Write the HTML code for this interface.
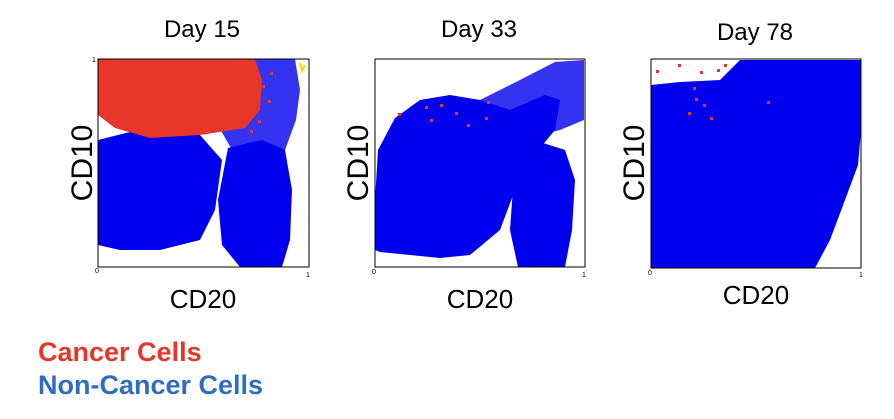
<!DOCTYPE html>
<html><head><style>
body{margin:0;background:#fff;width:894px;height:414px;overflow:hidden;font-family:"Liberation Sans",sans-serif}
</style></head><body>
<svg width="894" height="414" viewBox="0 0 894 414" xmlns="http://www.w3.org/2000/svg" font-family="Liberation Sans, sans-serif">
<text x="202" y="37" font-size="24" text-anchor="middle">Day 15</text>
<text x="479" y="37" font-size="24" text-anchor="middle">Day 33</text>
<text x="755" y="40" font-size="24" text-anchor="middle">Day 78</text>
<text transform="translate(92,163) rotate(-90)" font-size="30" text-anchor="middle">CD10</text>
<text transform="translate(368,163) rotate(-90)" font-size="30" text-anchor="middle">CD10</text>
<text transform="translate(644,163) rotate(-90)" font-size="30" text-anchor="middle">CD10</text>
<text x="203" y="308" font-size="26" text-anchor="middle">CD20</text>
<text x="480" y="308" font-size="26" text-anchor="middle">CD20</text>
<text x="756" y="304" font-size="26" text-anchor="middle">CD20</text>

<!-- Plot 1 -->
<g>
<path d="M220,59 L295,59 L300,90 L296,120 L285,150 L262,160 L232,150 L215,120 Z" fill="#0000ee" opacity="0.8"/>
<path d="M98,140 L130,132 L200,135 L222,160 L215,210 L200,240 L160,250 L120,250 L98,245 Z" fill="#0000ee"/>
<path d="M228,148 L262,140 L285,150 L292,190 L290,240 L282,267 L240,267 L222,245 L218,200 Z" fill="#0000ee"/>
<path d="M98,59 L255,59 L262,80 L260,110 L245,128 L200,135 L150,138 L115,128 L98,115 Z" fill="#e8352a"/>
<g fill="#e8352a"><rect x="262" y="85" width="3" height="3"/><rect x="268" y="100" width="3" height="3"/><rect x="258" y="120" width="3" height="3"/><rect x="250" y="130" width="3" height="3"/><rect x="270" y="72" width="3" height="3"/></g>
<path d="M300,63 l2,8 l3,-6" stroke="#f0e000" stroke-width="2" fill="none"/>
<rect x="98" y="59" width="211" height="208" fill="none" stroke="#000" stroke-width="1"/>
<text x="95" y="273" font-size="7">0</text><text x="306" y="277" font-size="7">1</text><text x="92" y="62" font-size="7">1</text>
</g>

<!-- Plot 2 -->
<g>
<path d="M480,100 L520,80 L555,62 L584,60 L584,120 L560,130 L520,140 Z" fill="#0000ee" opacity="0.8"/>
<path d="M375,200 L378,150 L395,118 L420,100 L450,95 L480,100 L510,110 L545,95 L560,100 L555,130 L530,160 L515,190 L500,230 L470,255 L440,258 L410,255 L380,252 L375,250 Z" fill="#0000ee"/>
<path d="M515,160 L540,142 L565,150 L575,180 L572,230 L565,267 L518,267 L510,230 Z" fill="#0000ee"/>
<g fill="#e8352a"><rect x="398" y="113" width="3" height="3"/><rect x="425" y="106" width="3" height="3"/><rect x="440" y="104" width="3" height="3"/><rect x="455" y="112" width="3" height="3"/><rect x="485" y="117" width="3" height="3"/><rect x="487" y="101" width="3" height="3"/><rect x="430" y="119" width="3" height="3"/><rect x="467" y="124" width="3" height="3"/></g>
<rect x="375" y="59" width="210" height="208" fill="none" stroke="#000" stroke-width="1"/>
<text x="372" y="274" font-size="7">0</text><text x="582" y="277" font-size="7">1</text>
</g>

<!-- Plot 3 -->
<g>
<path d="M651,85 L680,82 L720,80 L740,60 L861,60 L861,130 L858,165 L845,200 L830,240 L815,268 L651,268 Z" fill="#0000ee"/>
<g fill="#e8352a"><rect x="656" y="70" width="3" height="3"/><rect x="678" y="64" width="3" height="3"/><rect x="700" y="71" width="3" height="3"/><rect x="693" y="87" width="3" height="3"/><rect x="695" y="98" width="3" height="3"/><rect x="703" y="104" width="3" height="3"/><rect x="688" y="112" width="3" height="3"/><rect x="710" y="117" width="3" height="3"/><rect x="717" y="69" width="3" height="3"/><rect x="724" y="64" width="3" height="3"/><rect x="767" y="101" width="3" height="3"/></g>
<rect x="651" y="59" width="210" height="209" fill="none" stroke="#000" stroke-width="1"/>
<text x="648" y="275" font-size="7">0</text><text x="859" y="277" font-size="7">1</text>
</g>

<text x="38" y="361" font-size="27" font-weight="bold" fill="#e8352a">Cancer Cells</text>
<text x="38" y="394" font-size="27" font-weight="bold" fill="#2f6dc0">Non-Cancer Cells</text>
</svg>
</body></html>
